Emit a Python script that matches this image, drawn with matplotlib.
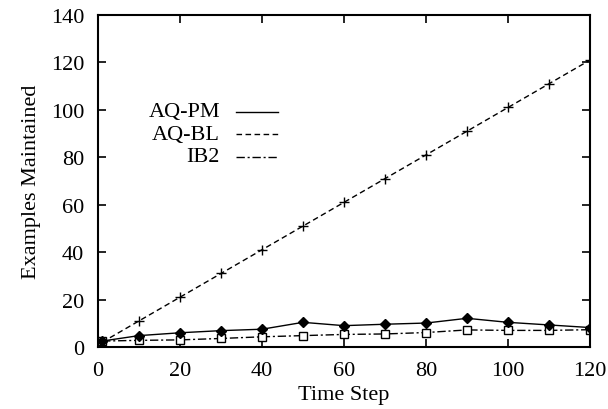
import matplotlib
matplotlib.use('Agg')
import matplotlib.pyplot as plt
from matplotlib.lines import Line2D

plt.rcParams['font.family'] = 'Liberation Serif'
plt.rcParams['font.size'] = 16

# Data
steps = [1, 10, 20, 30, 40, 50, 60, 70, 80, 90, 100, 110, 120]
aq_pm = [2.5, 4.8, 6.0, 6.9, 7.5, 10.4, 9.0, 9.6, 10.1, 12.1, 10.4, 9.3, 8.2]
aq_bl = [2, 11, 21, 31, 41, 51, 61, 71, 81, 91, 101, 111, 121]
ib2 = [2.5, 2.8, 3.0, 3.6, 4.3, 4.8, 5.3, 5.5, 6.1, 7.2, 7.0, 7.0, 7.3]

labels = ['AQ-PM', 'AQ-BL', 'IB2']
styles = ['-', (0, (4, 2.5)), (0, (6, 2, 1.5, 2))]

fig = plt.figure(figsize=(6.08, 4.10), dpi=100)
ax = fig.add_axes([98/608, 1 - 348/410, 492/608, 332/410])

ax.plot(steps, aq_bl, color='black', lw=1, linestyle=styles[1],
        marker='+', ms=7, mew=1)
ax.plot(steps, ib2, color='black', lw=1, linestyle=styles[2],
        marker='s', ms=6, mfc='white', mec='black', mew=1)
ax.plot(steps, aq_pm, color='black', lw=1, linestyle=styles[0],
        marker='D', ms=5.5, mfc='black', mec='black')

ax.set_xlim(0, 120)
ax.set_ylim(0, 140)
ax.set_xticks(range(0, 121, 20))
ax.set_yticks(range(0, 141, 20))
ax.tick_params(direction='in', length=6, width=1.2, top=True, right=True,
               labelsize=16)
ax.tick_params(axis='x', pad=10)
ax.tick_params(axis='y', pad=10)
for s in ax.spines.values():
    s.set_linewidth(1.5)

ax.set_xlabel('Time Step', fontsize=16, labelpad=4)
ax.set_ylabel('Examples Maintained', fontsize=16, labelpad=7)

# gnuplot-style key: right-aligned labels, line samples to the right
for i, (lab, ls) in enumerate(zip(labels, styles)):
    py = 112.7 + i * 22.5
    fig.text(220/608, 1 - py/410, lab, ha='right', va='center', fontsize=16)
    fig.add_artist(Line2D([236/608, 278/608], [1 - py/410, 1 - py/410],
                          transform=fig.transFigure, color='black', lw=1,
                          linestyle=ls))

fig.savefig('out.png', dpi=100)
